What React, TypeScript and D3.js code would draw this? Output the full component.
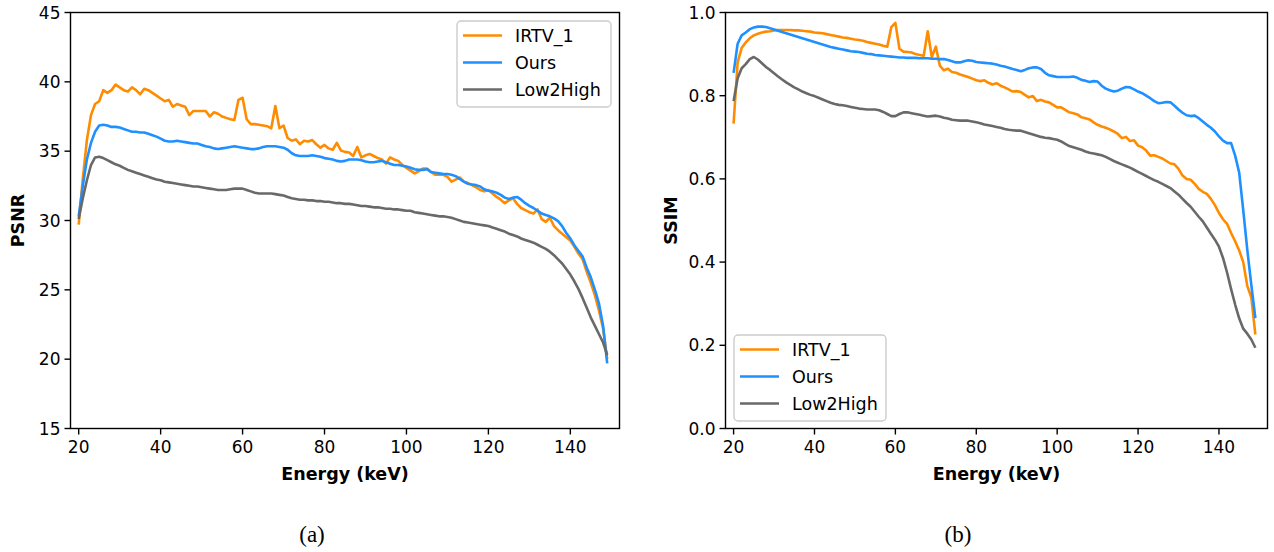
import React from "react";
import * as d3 from "d3";

// ---------- data ----------
const energyKeV: number[] = [
  20, 21, 22, 23, 24, 25, 26, 27, 28, 29, 30, 31, 32, 33, 34, 35, 36, 37, 38, 39,
  40, 41, 42, 43, 44, 45, 46, 47, 48, 49, 50, 51, 52, 53, 54, 55, 56, 57, 58, 59,
  60, 61, 62, 63, 64, 65, 66, 67, 68, 69, 70, 71, 72, 73, 74, 75, 76, 77, 78, 79,
  80, 81, 82, 83, 84, 85, 86, 87, 88, 89, 90, 91, 92, 93, 94, 95, 96, 97, 98, 99,
  100, 101, 102, 103, 104, 105, 106, 107, 108, 109, 110, 111, 112, 113, 114, 115, 116, 117, 118, 119,
  120, 121, 122, 123, 124, 125, 126, 127, 128, 129, 130, 131, 132, 133, 134, 135, 136, 137, 138, 139,
  140, 141, 142, 143, 144, 145, 146, 147, 148, 149,
];

const seriesNames = ["IRTV_1", "Ours", "Low2High"];
const seriesColors = ["#ff8c00", "#1e90ff", "#696969"];

const psnrIRTV: number[] = [
  29.7, 33.0, 35.8, 37.6, 38.4, 38.6, 39.4, 39.2, 39.4, 39.8, 39.6, 39.4, 39.3, 39.6, 39.4, 39.1, 39.5, 39.4, 39.2, 39.0,
  38.8, 38.6, 38.7, 38.2, 38.4, 38.3, 38.2, 37.6, 37.9, 37.9, 37.9, 37.9, 37.5, 37.8, 37.7, 37.5, 37.4, 37.3, 37.25, 38.7,
  38.85, 37.3, 36.95, 36.95, 36.9, 36.85, 36.8, 36.65, 38.25, 36.65, 36.85, 35.95, 35.75, 35.85, 35.5, 35.75, 35.7, 35.8, 35.5, 35.25,
  35.45, 35.2, 35.1, 35.6, 35.05, 34.95, 34.9, 34.65, 35.3, 34.55, 34.7, 34.8, 34.65, 34.5, 34.4, 34.1, 34.55, 34.4, 34.3, 34.0,
  33.8, 33.6, 33.4, 33.55, 33.75, 33.75, 33.5, 33.3, 33.3, 33.3, 33.15, 32.8, 32.95, 33.1, 32.8, 32.7, 32.55, 32.4, 32.2, 32.1,
  32.2, 31.95, 31.7, 31.5, 31.25, 31.45, 31.6, 31.2, 30.9, 30.75, 30.6, 30.5, 30.8, 30.1, 29.9, 30.2, 29.6, 29.3, 29.05, 28.8,
  28.55, 28.1, 27.6, 27.2, 26.3, 25.5, 24.6, 23.5, 22.2, 20.0,
];
const psnrOurs: number[] = [
  30.3, 32.5, 34.4, 35.6, 36.4, 36.85, 36.9, 36.85, 36.75, 36.75, 36.7, 36.6, 36.5, 36.4, 36.4, 36.35, 36.35, 36.25, 36.15, 36.05,
  35.9, 35.75, 35.7, 35.7, 35.75, 35.7, 35.65, 35.6, 35.55, 35.55, 35.45, 35.35, 35.3, 35.2, 35.15, 35.2, 35.25, 35.3, 35.35, 35.3,
  35.25, 35.2, 35.15, 35.15, 35.2, 35.3, 35.35, 35.35, 35.35, 35.3, 35.25, 35.1, 34.85, 34.7, 34.65, 34.65, 34.65, 34.7, 34.65, 34.6,
  34.5, 34.45, 34.4, 34.3, 34.25, 34.3, 34.4, 34.4, 34.4, 34.35, 34.25, 34.2, 34.2, 34.25, 34.3, 34.2, 34.1, 34.0, 34.0, 33.95,
  33.9, 33.8, 33.7, 33.65, 33.65, 33.7, 33.5, 33.45, 33.4, 33.35, 33.35, 33.3, 33.2, 33.0, 32.8, 32.65, 32.6, 32.55, 32.45, 32.25,
  32.15, 32.1, 32.0, 31.85, 31.65, 31.55, 31.65, 31.7, 31.5, 31.25, 31.05, 30.9, 30.7, 30.5, 30.4, 30.3, 30.15, 29.95, 29.6, 29.1,
  28.7, 28.2, 27.8, 27.4, 26.6, 25.9, 25.0, 24.0, 22.4, 19.7,
];
const psnrLow2High: number[] = [
  30.1, 31.6, 32.9, 34.0, 34.55, 34.6, 34.5, 34.35, 34.2, 34.05, 33.95, 33.8, 33.65, 33.55, 33.45, 33.35, 33.25, 33.15, 33.05, 32.95,
  32.9, 32.8, 32.75, 32.7, 32.65, 32.6, 32.55, 32.5, 32.45, 32.45, 32.4, 32.35, 32.3, 32.25, 32.2, 32.2, 32.2, 32.25, 32.3, 32.3,
  32.3, 32.2, 32.1, 32.0, 31.95, 31.95, 31.95, 31.95, 31.9, 31.85, 31.8, 31.7, 31.6, 31.55, 31.5, 31.5, 31.45, 31.45, 31.4, 31.4,
  31.35, 31.35, 31.3, 31.25, 31.25, 31.2, 31.2, 31.15, 31.1, 31.05, 31.05, 31.0, 30.95, 30.95, 30.9, 30.85, 30.85, 30.8, 30.8, 30.75,
  30.7, 30.7, 30.6, 30.55, 30.5, 30.45, 30.4, 30.35, 30.3, 30.3, 30.25, 30.2, 30.1, 30.0, 29.9, 29.85, 29.8, 29.75, 29.7, 29.65,
  29.6, 29.5, 29.4, 29.3, 29.2, 29.05, 28.95, 28.85, 28.7, 28.6, 28.5, 28.4, 28.25, 28.1, 27.95, 27.75, 27.5, 27.2, 26.9, 26.5,
  26.1, 25.6, 25.05, 24.4, 23.7, 23.0, 22.4, 21.8, 21.2, 20.3,
];

const ssimIRTV: number[] = [
  0.733, 0.88, 0.915, 0.928, 0.938, 0.945, 0.949, 0.952, 0.954, 0.955, 0.957, 0.958, 0.958, 0.958, 0.958, 0.957, 0.957, 0.956, 0.955, 0.954,
  0.952, 0.951, 0.95, 0.948, 0.946, 0.944, 0.942, 0.94, 0.939, 0.937, 0.935, 0.934, 0.932, 0.929, 0.927, 0.925, 0.923, 0.92, 0.918, 0.965,
  0.975, 0.913, 0.906, 0.905, 0.904, 0.9, 0.898, 0.896, 0.955, 0.893, 0.918, 0.872, 0.861, 0.865, 0.857, 0.855, 0.851, 0.848, 0.845, 0.841,
  0.837, 0.835, 0.837, 0.831, 0.827, 0.83, 0.824, 0.82, 0.815, 0.81, 0.811, 0.809, 0.802, 0.796, 0.799, 0.787, 0.79, 0.786, 0.784, 0.778,
  0.772, 0.772, 0.766, 0.76, 0.758, 0.755, 0.748, 0.746, 0.743, 0.736, 0.73, 0.726, 0.723, 0.719, 0.714, 0.708, 0.698, 0.701, 0.691, 0.693,
  0.68, 0.676, 0.668, 0.656, 0.657, 0.653, 0.649, 0.643, 0.637, 0.635, 0.624, 0.608, 0.6, 0.598, 0.588, 0.576, 0.569, 0.564, 0.552, 0.537,
  0.518, 0.503, 0.492, 0.47, 0.45, 0.428, 0.4, 0.343, 0.315, 0.226,
];
const ssimOurs: number[] = [
  0.855, 0.925, 0.945, 0.952, 0.96, 0.964, 0.966, 0.966, 0.965, 0.962, 0.959, 0.956, 0.953, 0.95, 0.947, 0.944, 0.941, 0.938, 0.935, 0.932,
  0.929, 0.926, 0.923, 0.92, 0.917, 0.915, 0.913, 0.911, 0.909, 0.907, 0.906, 0.905, 0.903, 0.901, 0.9, 0.898, 0.897, 0.896, 0.895, 0.894,
  0.893, 0.892, 0.892, 0.891, 0.891, 0.891, 0.89, 0.89, 0.89, 0.889, 0.889, 0.888, 0.888, 0.886, 0.883, 0.88, 0.88, 0.883, 0.885, 0.884,
  0.881, 0.88, 0.879, 0.878, 0.877, 0.875, 0.872, 0.87, 0.867, 0.864, 0.862, 0.859, 0.862, 0.866, 0.868, 0.868, 0.864, 0.855, 0.849, 0.847,
  0.845, 0.845, 0.845, 0.845, 0.846, 0.843, 0.838, 0.836, 0.833, 0.835, 0.834, 0.824, 0.817, 0.813, 0.81, 0.812, 0.817, 0.821, 0.82, 0.815,
  0.81, 0.806, 0.8, 0.794, 0.787, 0.782, 0.783, 0.785, 0.784, 0.776, 0.767, 0.759, 0.753, 0.751, 0.752, 0.746, 0.738, 0.73, 0.723, 0.714,
  0.702, 0.692, 0.686, 0.686, 0.656, 0.615, 0.525, 0.43, 0.345, 0.265,
];
const ssimLow2High: number[] = [
  0.787, 0.842, 0.866, 0.876, 0.888, 0.893, 0.887, 0.878, 0.869, 0.862, 0.854, 0.846, 0.839, 0.832, 0.826, 0.82, 0.815, 0.81, 0.806, 0.802,
  0.799, 0.795, 0.791, 0.787, 0.783, 0.78, 0.778, 0.777, 0.775, 0.773, 0.771, 0.769, 0.768, 0.767, 0.767, 0.767, 0.765, 0.761, 0.756, 0.751,
  0.751, 0.756, 0.76, 0.76, 0.758, 0.756, 0.754, 0.752, 0.75, 0.751, 0.752, 0.75, 0.747, 0.745, 0.742, 0.741, 0.74, 0.74, 0.74, 0.738,
  0.736, 0.734, 0.731, 0.729, 0.727, 0.725, 0.723, 0.72, 0.718, 0.717, 0.716, 0.716, 0.713, 0.71, 0.707, 0.704, 0.701, 0.699, 0.698, 0.696,
  0.694, 0.69, 0.684, 0.679, 0.676, 0.673, 0.67, 0.666, 0.663, 0.661, 0.659, 0.657, 0.653, 0.648, 0.643, 0.639, 0.635, 0.631, 0.627, 0.622,
  0.617, 0.612, 0.607, 0.602, 0.597, 0.593, 0.588, 0.583, 0.578, 0.57, 0.562, 0.552, 0.542, 0.533, 0.521, 0.509, 0.498, 0.483, 0.468, 0.454,
  0.437, 0.41, 0.375, 0.335, 0.298, 0.265, 0.24, 0.228, 0.214, 0.194,
];

const xTicks = [20, 40, 60, 80, 100, 120, 140];
const psnrTicks = [15, 20, 25, 30, 35, 40, 45];
const ssimTicks = [0.0, 0.2, 0.4, 0.6, 0.8, 1.0];

// ---------- layout ----------
const W = 1274;
const H = 552;
const FONT = "'DejaVu Sans', sans-serif";
const TICK_FS = 17;
const LABEL_FS = 17.5;
const LEG_FS = 17.5;

type PanelProps = {
  left: number;
  right: number;
  top: number;
  bottom: number;
  yDomain: [number, number];
  yTicks: number[];
  yFmt: (v: number) => string;
  yLabel: string;
  yLabelX: number;
  series: number[][];
  legend: { x: number; y: number; w: number; h: number };
  caption: string;
  captionX: number;
};

function Panel(p: PanelProps) {
  const x = d3.scaleLinear().domain([18, 152]).range([p.left, p.right]);
  const y = d3.scaleLinear().domain(p.yDomain).range([p.bottom, p.top]);
  const line = d3
    .line<number>()
    .x((_, i) => x(energyKeV[i]))
    .y((d) => y(d));
  const tickLen = 6;
  const clipId = `clip-${p.yLabel}`;
  return (
    <g>
      <defs>
        <clipPath id={clipId}>
          <rect x={p.left} y={p.top} width={p.right - p.left} height={p.bottom - p.top} />
        </clipPath>
      </defs>
      <g clipPath={`url(#${clipId})`}>
        {p.series.map((s, i) => (
          <path
            key={i}
            d={line(s) || ""}
            fill="none"
            stroke={seriesColors[i]}
            strokeWidth={2.6}
            strokeLinejoin="round"
            strokeLinecap="butt"
          />
        ))}
      </g>
      <rect
        x={p.left}
        y={p.top}
        width={p.right - p.left}
        height={p.bottom - p.top}
        fill="none"
        stroke="#000"
        strokeWidth={1.4}
      />
      {xTicks.map((t) => (
        <g key={t}>
          <line x1={x(t)} x2={x(t)} y1={p.bottom} y2={p.bottom + tickLen} stroke="#000" strokeWidth={1.4} />
          <text x={x(t)} y={p.bottom + 24} textAnchor="middle" fontFamily={FONT} fontSize={TICK_FS} fill="#000">
            {t}
          </text>
        </g>
      ))}
      {p.yTicks.map((t) => (
        <g key={t}>
          <line x1={p.left - tickLen} x2={p.left} y1={y(t)} y2={y(t)} stroke="#000" strokeWidth={1.4} />
          <text
            x={p.left - 10}
            y={y(t)}
            dy="0.36em"
            textAnchor="end"
            fontFamily={FONT}
            fontSize={TICK_FS}
            fill="#000"
          >
            {p.yFmt(t)}
          </text>
        </g>
      ))}
      <text
        x={(x(18) + x(152)) / 2}
        y={p.bottom + 51}
        textAnchor="middle"
        fontFamily={FONT}
        fontWeight="bold"
        fontSize={LABEL_FS}
        fill="#000"
      >
        Energy (keV)
      </text>
      <text
        transform={`translate(${p.yLabelX},${(p.top + p.bottom) / 2}) rotate(-90)`}
        textAnchor="middle"
        fontFamily={FONT}
        fontWeight="bold"
        fontSize={LABEL_FS}
        fill="#000"
      >
        {p.yLabel}
      </text>
      <g transform={`translate(${p.legend.x},${p.legend.y})`}>
        <rect
          x={0}
          y={0}
          width={p.legend.w}
          height={p.legend.h}
          rx={4}
          fill="#fff"
          fillOpacity={0.8}
          stroke="#cccccc"
          strokeWidth={1.4}
        />
        {seriesNames.map((n, i) => (
          <g key={n} transform={`translate(0,${14.5 + i * 27})`}>
            <line x1={6} x2={45} y1={0} y2={0} stroke={seriesColors[i]} strokeWidth={2.6} />
            <text x={58} y={0} dy="0.36em" fontFamily={FONT} fontSize={LEG_FS} fill="#000">
              {n}
            </text>
          </g>
        ))}
      </g>
      <text
        x={p.captionX}
        y={542}
        textAnchor="middle"
        fontFamily="'Liberation Serif', 'DejaVu Serif', serif"
        fontSize={23}
        fill="#000"
      >
        {p.caption}
      </text>
    </g>
  );
}

export default function App() {
  return (
    <div style={{ position: "absolute", left: 0, top: 0, width: W, height: H, background: "#fff" }}>
      <svg width={W} height={H} viewBox={`0 0 ${W} ${H}`} style={{ display: "block" }}>
        <rect x={0} y={0} width={W} height={H} fill="#fff" />
        <Panel
          left={70.5}
          right={619.5}
          top={12.5}
          bottom={428.5}
          yDomain={[15, 45]}
          yTicks={psnrTicks}
          yFmt={(v) => d3.format("d")(v)}
          yLabel="PSNR"
          yLabelX={24}
          series={[psnrIRTV, psnrOurs, psnrLow2High]}
          legend={{ x: 457, y: 21, w: 154, h: 86 }}
          caption="(a)"
          captionX={312}
        />
        <Panel
          left={725.5}
          right={1267.5}
          top={12.5}
          bottom={428.5}
          yDomain={[0, 1]}
          yTicks={ssimTicks}
          yFmt={(v) => d3.format(".1f")(v)}
          yLabel="SSIM"
          yLabelX={677}
          series={[ssimIRTV, ssimOurs, ssimLow2High]}
          legend={{ x: 734, y: 335, w: 152, h: 86 }}
          caption="(b)"
          captionX={958}
        />
      </svg>
    </div>
  );
}
